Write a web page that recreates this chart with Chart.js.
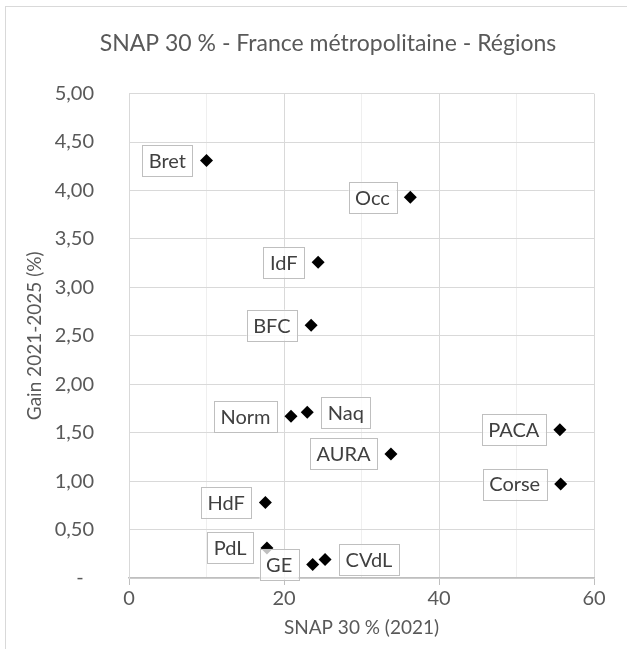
<!DOCTYPE html>
<html>
<head>
<meta charset="utf-8">
<script src="https://cdn.jsdelivr.net/npm/chart.js@4.4.0/dist/chart.umd.min.js"></script>
<style>
  html, body { margin: 0; padding: 0; background: #fff; overflow: hidden; }
  #frame {
    position: absolute; left: 5px; top: 6px;
    width: 644px; height: 642px;
    border-left: 1px solid #d9d9d9; border-top: 1px solid #d9d9d9;
  }
  canvas { display: block; }
</style>
</head>
<body>
<div id="frame"><canvas id="chart" width="644" height="642"></canvas></div>
<script>
// Regions (short names) and values
const regions = ['Bret', 'Occ', 'IdF', 'BFC', 'Norm', 'Naq', 'AURA', 'PACA', 'Corse', 'HdF', 'PdL', 'GE', 'CVdL'];
const snap2021 = [10.0, 36.3, 24.4, 23.5, 20.9, 23.0, 33.8, 55.6, 55.7, 17.6, 17.8, 23.7, 25.3];
const gain = [4.31, 3.93, 3.26, 2.61, 1.67, 1.71, 1.28, 1.53, 0.97, 0.78, 0.31, 0.14, 0.19];
const xTicks = [0, 20, 40, 60];

// labels shown on the right of their point (others on the left)
const rightLabels = ['Naq', 'CVdL'];

const textColor = '#595959';
Chart.defaults.font.family = 'Lato, "Liberation Sans", sans-serif';
Chart.defaults.color = textColor;

// Draw boxed data labels next to each point
const boxLabels = {
  id: 'boxLabels',
  afterDatasetsDraw(chart) {
    const ctx = chart.ctx;
    const meta = chart.getDatasetMeta(0);
    ctx.save();
    ctx.font = '20px Lato, "Liberation Sans", sans-serif';
    ctx.textBaseline = 'middle';
    ctx.textAlign = 'center';
    meta.data.forEach((pt, i) => {
      const name = regions[i];
      const w = ctx.measureText(name).width + 13;
      const h = 31;
      const gap = 14;
      const left = rightLabels.includes(name) ? pt.x + gap : pt.x - gap - w;
      const top = pt.y - h / 2;
      ctx.fillStyle = 'rgba(255,255,255,0.75)';
      ctx.fillRect(left, top, w, h);
      ctx.strokeStyle = '#bfbfbf';
      ctx.lineWidth = 1;
      ctx.strokeRect(Math.round(left) + 0.5, Math.round(top) + 0.5, Math.round(w), h);
      ctx.fillStyle = '#404040';
      ctx.fillText(name, left + w / 2, pt.y + 1);
    });
    ctx.restore();
  }
};

const points = snap2021.map((x, i) => ({ x: x, y: gain[i] }));

new Chart(document.getElementById('chart'), {
  type: 'scatter',
  data: {
    datasets: [{
      label: 'Régions',
      data: points,
      pointStyle: 'rectRot',
      pointRadius: 6.5,
      pointHoverRadius: 6.5,
      pointBorderWidth: 0,
      backgroundColor: '#000',
      borderColor: '#000'
    }]
  },
  options: {
    responsive: false,
    animation: false,
    events: [],
    layout: { padding: 0 },
    plugins: {
      legend: { display: false },
      tooltip: { enabled: false },
      title: {
        display: true,
        text: 'SNAP 30 % - France métropolitaine - Régions',
        color: textColor,
        font: { size: 23, weight: 'normal' },
        padding: { top: 23, bottom: 36 }
      }
    },
    scales: {
      x: {
        type: 'linear',
        min: 0,
        max: 60,
        afterFit(scale) { scale.height = 71; },
        ticks: {
          stepSize: 10,
          padding: 2,
          font: { size: 20 },
          color: textColor,
          maxRotation: 0,
          callback: v => xTicks.includes(v) ? String(v) : ''
        },
        grid: {
          color: ctx => (ctx.tick && ctx.tick.value % 20 === 0) ? '#d9d9d9' : '#efefef',
          tickColor: ctx => (ctx.tick && ctx.tick.value % 20 === 0) ? '#bfbfbf' : 'rgba(0,0,0,0)',
          tickLength: 7
        },
        border: { color: '#bfbfbf', width: 1.5 },
        title: {
          display: true,
          text: 'SNAP 30 % (2021)',
          color: textColor,
          font: { size: 19 },
          padding: { top: 0, bottom: 10 }
        }
      },
      y: {
        min: 0,
        max: 5,
        afterFit(scale) { scale.width = 123; },
        ticks: {
          stepSize: 0.5,
          padding: 35,
          font: { size: 20 },
          color: textColor,
          callback: v => v === 0 ? '-  ' : v.toFixed(2).replace('.', ',')
        },
        grid: { color: '#d9d9d9', drawTicks: false },
        border: { color: '#d9d9d9' },
        title: {
          display: true,
          text: 'Gain 2021-2025 (%)',
          color: textColor,
          font: { size: 19 },
          padding: { top: 17, bottom: 0 }
        }
      },
      // empty right-hand axis: reserves the space right of the plot
      y2: {
        position: 'right',
        afterFit(scale) { scale.width = 56; },
        ticks: { display: false },
        grid: { display: false },
        border: { display: false }
      }
    }
  },
  plugins: [boxLabels]
});
</script>
</body>
</html>
